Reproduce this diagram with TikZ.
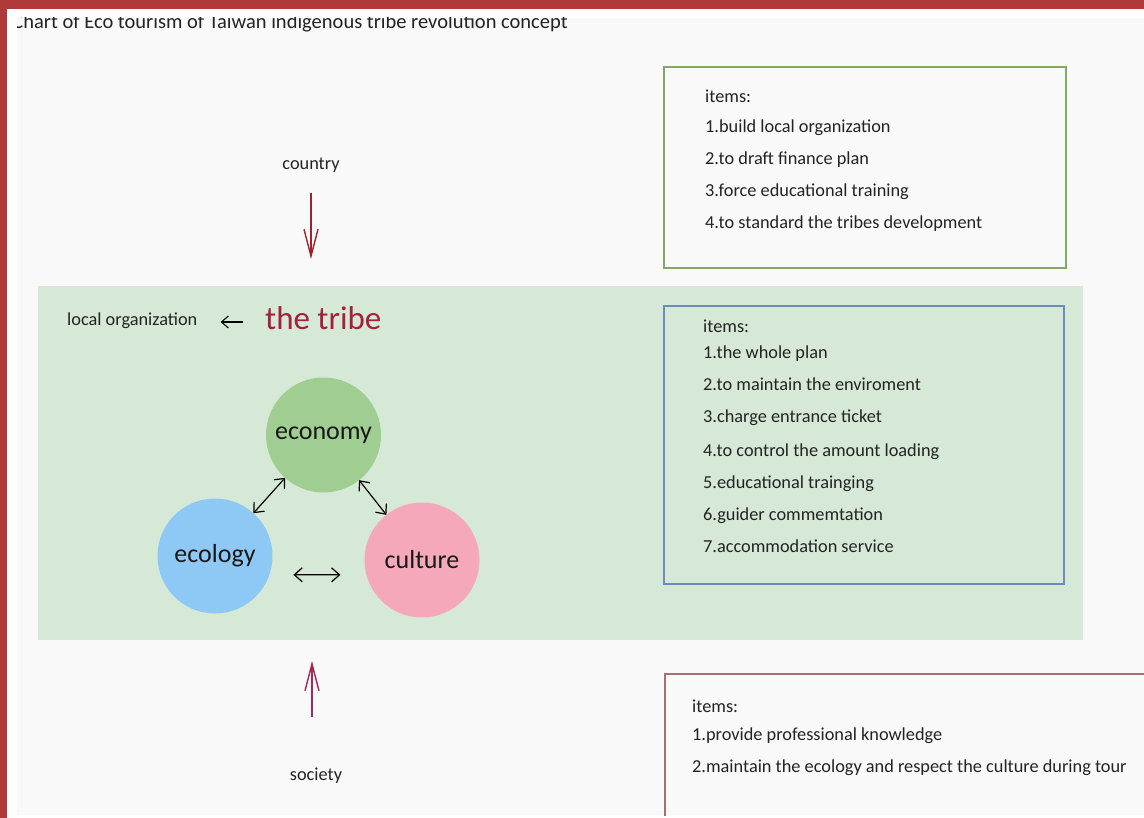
\documentclass[tikz,border=0pt]{standalone}
\usepackage{fontspec}
\setmainfont{Carlito}
\usetikzlibrary{arrows.meta}
\definecolor{redframe}{RGB}{176,58,58}
\definecolor{bggray}{RGB}{249,249,249}
\definecolor{bandgreen}{RGB}{214,233,215}
\definecolor{econfill}{RGB}{160,205,145}
\definecolor{ecolfill}{RGB}{142,201,245}
\definecolor{cultfill}{RGB}{244,168,186}
\definecolor{gbox}{RGB}{130,168,98}
\definecolor{bbox}{RGB}{108,140,192}
\definecolor{rbox}{RGB}{165,112,110}
\definecolor{tribered}{RGB}{165,32,60}
\definecolor{countryred}{RGB}{160,35,40}
\definecolor{societyred}{RGB}{165,40,85}
\definecolor{txtgray}{RGB}{35,35,35}
\tikzset{
  smalltxt/.style={anchor=base west, inner sep=0pt, text=txtgray, font=\fontsize{18.3}{20}\selectfont},
  itembox/.style={anchor=north west, inner sep=0pt, outer sep=0pt, line width=1.5pt, fill=none},
  blob/.style={circle, inner sep=0pt, outer sep=0pt, minimum size=115pt, text=txtgray!70!black, font=\fontsize{26}{28}\selectfont},
  dbl/.style={{Straight Barb[length=8pt,width=14pt]}-{Straight Barb[length=8pt,width=14pt]}, line width=1.2pt, black},
  vert/.style={-{Straight Barb[length=27pt,width=14pt]}, line width=1.4pt},
}
\begin{document}
\begin{tikzpicture}[x=1pt,y=-1pt]
\useasboundingbox (0,0) rectangle (1144,818);
\fill[white] (0,0) rectangle (1144,818);
\begin{scope}
\clip (17,18) rectangle (1144,815);
\fill[bggray] (17,18) rectangle (1144,815);
\node[anchor=base east, inner sep=0pt, text=txtgray, font=\fontsize{20.5}{22}\selectfont] (title) at (568,29) {Chart of Eco tourism of Taiwan indigenous tribe revolution concept};

% green band
\node[anchor=north west, inner sep=0pt, outer sep=0pt, fill=bandgreen, minimum width=1045pt, minimum height=354pt] (band) at (38,286) {};

% item boxes
\node[itembox, draw=gbox, minimum width=402pt, minimum height=201pt] (boxA) at (664,67) {};
\node[itembox, draw=bbox, minimum width=400pt, minimum height=278pt] (boxB) at (664,306) {};
\node[itembox, draw=rbox, minimum width=520pt, minimum height=160pt] (boxC) at (665,674) {};

\node[smalltxt] (a0) at (705,103) {items:};
\node[smalltxt] (a1) at (705,133) {1.build local organization};
\node[smalltxt] (a2) at (705,165) {2.to draft finance plan};
\node[smalltxt] (a3) at (705,197) {3.force educational training};
\node[smalltxt] (a4) at (705,229) {4.to standard the tribes development};

\node[smalltxt] (b0) at (703,333) {items:};
\node[smalltxt] (b1) at (703,359) {1.the whole plan};
\node[smalltxt] (b2) at (703,391) {2.to maintain the enviroment};
\node[smalltxt] (b3) at (703,423) {3.charge entrance ticket};
\node[smalltxt] (b4) at (703,456) {4.to control the amount loading};
\node[smalltxt] (b5) at (703,488) {5.educational trainging};
\node[smalltxt] (b6) at (703,520) {6.guider commemtation};
\node[smalltxt] (b7) at (703,552) {7.accommodation service};

\node[smalltxt] (c0) at (692,712) {items:};
\node[smalltxt] (c1) at (692,740) {1.provide professional knowledge};
\node[smalltxt] (c2) at (692,772) {2.maintain the ecology and respect the culture during tour};

% country / society
\node[smalltxt, anchor=base] (country) at (311,170) {country};
\node[smalltxt, anchor=base] (society) at (316,780) {society};
\draw[vert, countryred, shorten <=20pt, shorten >=27pt] (country.south) -- (country.south |- band.north);
\draw[vert, societyred, shorten <=50pt, shorten >=21pt] (society.north -| 312,0) -- (312,640);

% tribe
\node[anchor=base west, inner sep=0pt, text=tribered, font=\fontsize{33}{36}\selectfont] (tribe) at (265,330) {the tribe};
\node[smalltxt] (localorg) at (67,326) {local organization};
\draw[-{Straight Barb[length=7pt,width=12pt]}, line width=1.1pt, black, shorten <=22pt, shorten >=23pt] (tribe.west |- 0,322) -- (localorg.east |- 0,322);

% circles
\node[blob, fill=econfill] (econ) at (323.5,435) {economy};
\node[blob, fill=ecolfill] (ecol) at (215,556) {ecology};
\node[blob, fill=cultfill] (cult) at (422,560) {culture};

\draw[dbl] (econ) -- (ecol);
\draw[dbl] (econ) -- (cult);
\draw[dbl, shorten <=24pt, shorten >=26pt] (ecol.-19) -- (cult.195);
\end{scope}

% frame
\fill[redframe] (0,0) rectangle (1144,9);
\fill[redframe] (0,0) rectangle (7,818);
\end{tikzpicture}
\end{document}
